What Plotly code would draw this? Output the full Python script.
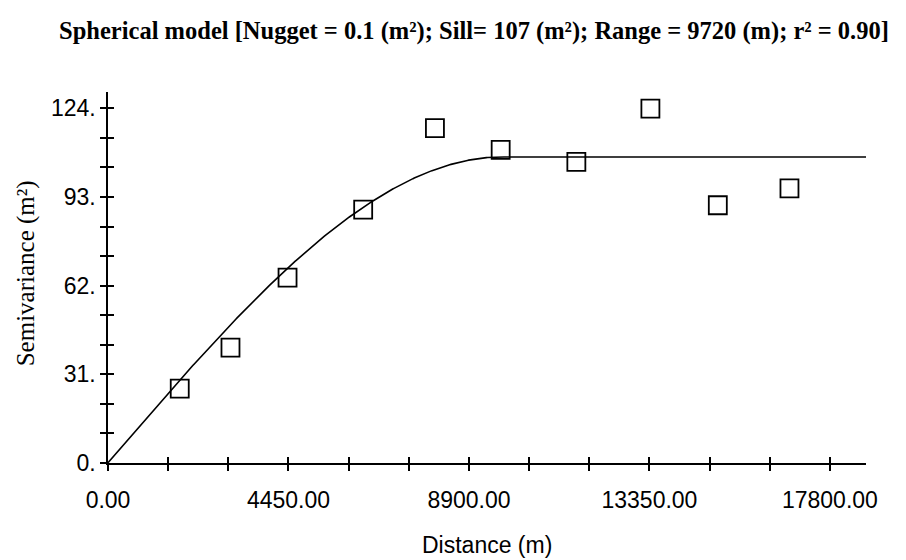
import numpy as np
import plotly.graph_objects as go

# Experimental semivariogram (lag distance in m, semivariance in m^2)
lag_distance = [1769, 3020, 4427, 6292, 8061, 9682, 11548, 13374, 15036, 16803]
semivariance = [26.0, 40.3, 64.8, 88.6, 117.1, 109.5, 105.3, 123.9, 90.1, 96.0]

# Fitted spherical model parameters
nugget = 0.1
sill = 107.0
model_range = 9720.0
r_squared = 0.90

# Axis extents and labelled ticks
x_max = 18690
y_max = 129.7
x_major = [0, 4450, 8900, 13350, 17800]
x_major_labels = ["0.00", "4450.00", "8900.00", "13350.00", "17800.00"]
y_major = [0, 31, 62, 93, 124]
y_major_labels = ["0.", "31.", "62.", "93.", "124."]
x_minor_step = 4450 / 3
y_minor_step = 31 / 3


def spherical(h):
    h = np.asarray(h, dtype=float)
    r = np.clip(h / model_range, 0, 1)
    return nugget + (sill - nugget) * (1.5 * r - 0.5 * r ** 3)


h_model = np.linspace(0, x_max, 600)
gamma_model = spherical(h_model)

fig = go.Figure()
fig.add_trace(go.Scatter(
    x=h_model, y=gamma_model, mode="lines",
    line=dict(color="black", width=1.6),
    hoverinfo="skip",
))
fig.add_trace(go.Scatter(
    x=lag_distance, y=semivariance, mode="markers",
    marker=dict(symbol="square-open", size=18, color="black",
                line=dict(color="black", width=1.8)),
))
# Companion axes carry the inner half of each tick so the ticks cross the axis lines
fig.add_trace(go.Scatter(
    x=lag_distance, y=semivariance, xaxis="x2", yaxis="y2",
    mode="markers", marker=dict(opacity=0), hoverinfo="skip",
))

tick_font = dict(family="Liberation Sans, Arial, sans-serif", size=23, color="black")
tick_style = dict(ticklen=6, tickwidth=1.5, tickcolor="black")


def minor(step, side):
    return dict(tick0=0, dtick=step, ticks=side, **tick_style)


fig.update_layout(
    width=906, height=560,
    margin=dict(l=108, r=40, t=92, b=97),
    paper_bgcolor="white", plot_bgcolor="white",
    showlegend=False,
    title=dict(
        text=("<b>Spherical model [Nugget = %.1f (m²); Sill= %d (m²); "
              "Range = %d (m); r² = %.2f]</b>")
        % (nugget, sill, model_range, r_squared),
        font=dict(family="Liberation Serif, Times New Roman, serif", size=24.5, color="black"),
        x=474 / 906, xref="container", xanchor="center",
        y=1 - 30 / 560, yref="container", yanchor="middle",
    ),
    xaxis=dict(
        range=[0, x_max], showgrid=False, zeroline=False,
        showline=True, linecolor="black", linewidth=1.5,
        ticks="outside", **tick_style,
        tickmode="array", tickvals=x_major, ticktext=x_major_labels,
        tickfont=tick_font, ticklabelstandoff=10,
        minor=minor(x_minor_step, "outside"),
    ),
    yaxis=dict(
        range=[0, y_max], showgrid=False, zeroline=False,
        showline=True, linecolor="black", linewidth=1.5,
        ticks="outside", **tick_style,
        tickmode="array", tickvals=y_major, ticktext=y_major_labels,
        tickfont=tick_font,
        minor=minor(y_minor_step, "outside"),
    ),
    xaxis2=dict(
        range=[0, x_max], overlaying="x", anchor="y2", side="bottom",
        showgrid=False, zeroline=False, showline=False, showticklabels=False,
        ticks="inside", **tick_style,
        tickmode="array", tickvals=x_major,
        minor=minor(x_minor_step, "inside"),
    ),
    yaxis2=dict(
        range=[0, y_max], overlaying="y", anchor="x2", side="left",
        showgrid=False, zeroline=False, showline=False, showticklabels=False,
        ticks="inside", **tick_style,
        tickmode="array", tickvals=y_major,
        minor=minor(y_minor_step, "inside"),
    ),
    annotations=[
        dict(text="Distance (m)", xref="paper", yref="paper", x=0.5, y=-82 / 371,
             xanchor="center", yanchor="middle", showarrow=False,
             font=dict(family="Liberation Sans, Arial, sans-serif", size=23, color="black")),
        dict(text="Semivariance (m²)", xref="paper", yref="paper",
             x=(26 - 108) / 758, y=(462.7 - 273) / 371, textangle=-90,
             xanchor="center", yanchor="middle", showarrow=False,
             font=dict(family="Liberation Serif, Times New Roman, serif", size=25, color="black")),
    ],
)

fig.write_html("out.html")
